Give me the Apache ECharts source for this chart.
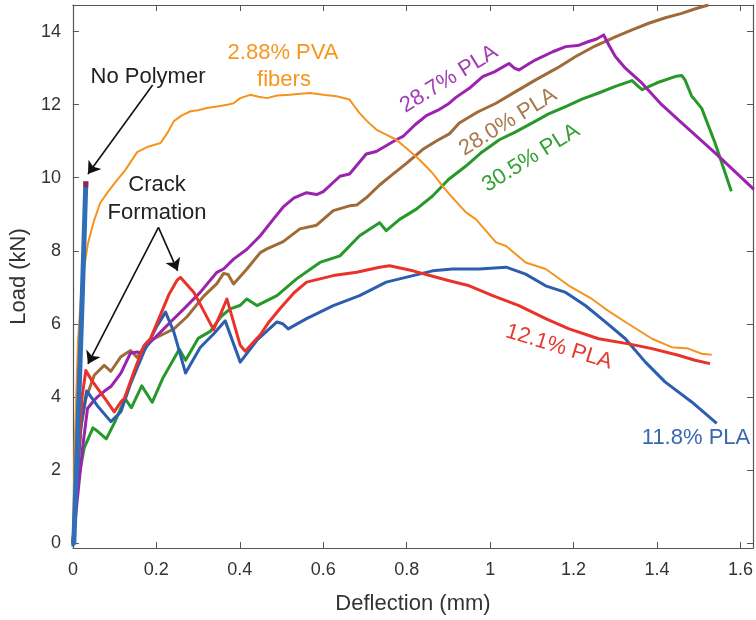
<!DOCTYPE html>
<html>
<head>
<meta charset="utf-8">
<script src="https://cdn.jsdelivr.net/npm/echarts@6/dist/echarts.min.js"></script>
<style>
  html, body { margin: 0; padding: 0; background: #fff; }
  #chart { width: 756px; height: 620px; }
</style>
</head>
<body>
<div id="chart"></div>
<script>
// tick values
const xTicks = [0, 0.2, 0.4, 0.6, 0.8, 1, 1.2, 1.4, 1.6];
const yTicks = [0, 2, 4, 6, 8, 10, 12, 14];

// load-deflection curves, [deflection mm, load kN]
const noPolymer = [[0.002, -0.05], [0.012, 3.2], [0.022, 6.6], [0.031, 9.9]];
const noPolymerTop = [[0.031, 9.82]];

const pva288 = [[0, 0], [0.004, 2.6], [0.012, 5.5], [0.019, 6.7], [0.028, 7.6], [0.036, 8.2], [0.05, 8.8],
  [0.065, 9.3], [0.083, 9.6], [0.1, 9.85], [0.125, 10.2], [0.154, 10.7], [0.18, 10.85], [0.21, 10.95],
  [0.225, 11.2], [0.242, 11.55], [0.26, 11.7], [0.282, 11.82], [0.3, 11.85], [0.321, 11.91], [0.345, 11.95],
  [0.37, 12.0], [0.385, 12.04], [0.401, 12.18], [0.425, 12.27], [0.445, 12.22], [0.465, 12.18], [0.49, 12.25],
  [0.52, 12.27], [0.545, 12.3], [0.568, 12.32], [0.6, 12.27], [0.632, 12.23], [0.663, 12.14], [0.675, 11.95],
  [0.687, 11.77], [0.705, 11.55], [0.727, 11.32], [0.759, 11.13], [0.775, 11.04], [0.8, 10.8], [0.83, 10.5],
  [0.86, 10.15], [0.886, 9.77], [0.902, 9.55], [0.942, 9.05], [0.966, 8.86], [1.014, 8.23], [1.038, 8.13],
  [1.085, 7.68], [1.133, 7.5], [1.189, 7.04], [1.244, 6.68], [1.276, 6.41], [1.324, 6.05], [1.388, 5.59],
  [1.435, 5.36], [1.475, 5.32], [1.507, 5.18], [1.531, 5.15]];

const pla287 = [[0, 0], [0.011, 1.23], [0.023, 2.59], [0.035, 3.68], [0.047, 3.85], [0.059, 4.0], [0.075, 4.15],
  [0.091, 4.28], [0.115, 4.65], [0.138, 5.2], [0.154, 5.23], [0.162, 5.2], [0.186, 5.5], [0.21, 5.77],
  [0.234, 6.05], [0.266, 6.41], [0.305, 6.86], [0.345, 7.41], [0.361, 7.5], [0.385, 7.77], [0.417, 8.04],
  [0.449, 8.41], [0.48, 8.86], [0.504, 9.2], [0.53, 9.45], [0.56, 9.59], [0.584, 9.54], [0.6, 9.62],
  [0.64, 10.04], [0.663, 10.1], [0.703, 10.65], [0.727, 10.72], [0.775, 11.04], [0.791, 11.13], [0.82, 11.45],
  [0.847, 11.7], [0.875, 11.85], [0.902, 12.04], [0.918, 12.2], [0.95, 12.45], [0.982, 12.77], [1.01, 12.9],
  [1.045, 13.13], [1.058, 13.0], [1.069, 12.95], [1.09, 13.1], [1.109, 13.23], [1.15, 13.45], [1.181, 13.59],
  [1.21, 13.62], [1.236, 13.73], [1.255, 13.8], [1.272, 13.91], [1.286, 13.6], [1.3, 13.32], [1.324, 13.0],
  [1.364, 12.59], [1.411, 12.0], [1.459, 11.5], [1.539, 10.68], [1.632, 9.68]];

const pla280 = [[0, 0], [0.008, 1.5], [0.019, 3.14], [0.031, 3.95], [0.051, 4.59], [0.075, 4.86], [0.091, 4.7],
  [0.115, 5.1], [0.138, 5.27], [0.154, 5.08], [0.178, 5.5], [0.21, 5.68], [0.242, 5.86], [0.274, 6.2],
  [0.313, 6.75], [0.345, 7.1], [0.361, 7.38], [0.372, 7.35], [0.385, 7.09], [0.417, 7.5], [0.449, 7.95],
  [0.465, 8.05], [0.504, 8.25], [0.544, 8.6], [0.584, 8.7], [0.624, 9.1], [0.663, 9.23], [0.68, 9.25],
  [0.703, 9.45], [0.735, 9.8], [0.767, 10.1], [0.8, 10.4], [0.838, 10.77], [0.87, 11.0], [0.902, 11.2],
  [0.926, 11.5], [0.97, 11.8], [1.014, 12.04], [1.06, 12.35], [1.109, 12.68], [1.16, 13.0], [1.205, 13.32],
  [1.25, 13.6], [1.3, 13.86], [1.34, 14.05], [1.38, 14.23], [1.42, 14.38], [1.459, 14.5], [1.49, 14.62],
  [1.523, 14.73]];

const pla305 = [[0, 0], [0.011, 1.6], [0.027, 2.6], [0.048, 3.15], [0.06, 3.05], [0.08, 2.85], [0.1, 3.3],
  [0.125, 3.95], [0.14, 3.7], [0.165, 4.3], [0.19, 3.85], [0.215, 4.5], [0.255, 5.3], [0.27, 5.0], [0.3, 5.6],
  [0.33, 5.8], [0.355, 6.2], [0.377, 6.41], [0.4, 6.5], [0.417, 6.68], [0.441, 6.5], [0.489, 6.77],
  [0.536, 7.23], [0.592, 7.68], [0.64, 7.86], [0.687, 8.41], [0.735, 8.77], [0.751, 8.55], [0.783, 8.86],
  [0.823, 9.14], [0.862, 9.5], [0.9, 9.95], [0.942, 10.32], [0.98, 10.7], [1.022, 11.04], [1.06, 11.25],
  [1.101, 11.5], [1.14, 11.75], [1.181, 11.95], [1.22, 12.15], [1.26, 12.32], [1.3, 12.5], [1.34, 12.66],
  [1.355, 12.5], [1.364, 12.41], [1.4, 12.6], [1.443, 12.77], [1.459, 12.8], [1.467, 12.68], [1.483, 12.23],
  [1.49, 12.14], [1.507, 11.9], [1.539, 10.95], [1.578, 9.63]];

const pla121 = [[0, 0], [0.01, 2.0], [0.022, 4.0], [0.031, 4.72], [0.045, 4.45], [0.059, 4.23], [0.08, 3.9],
  [0.099, 3.59], [0.115, 3.86], [0.123, 3.95], [0.146, 4.68], [0.17, 5.4], [0.186, 5.6], [0.21, 6.25],
  [0.23, 6.8], [0.25, 7.2], [0.258, 7.27], [0.29, 6.86], [0.337, 5.84], [0.355, 6.3], [0.369, 6.68],
  [0.401, 5.41], [0.413, 5.25], [0.433, 5.5], [0.449, 5.7], [0.47, 6.05], [0.496, 6.41], [0.53, 6.85],
  [0.56, 7.14], [0.624, 7.32], [0.68, 7.41], [0.735, 7.55], [0.759, 7.59], [0.815, 7.45], [0.862, 7.3],
  [0.902, 7.18], [0.95, 7.04], [1.006, 6.77], [1.069, 6.5], [1.133, 6.14], [1.189, 5.86], [1.26, 5.59],
  [1.332, 5.45], [1.388, 5.32], [1.451, 5.14], [1.491, 5.0], [1.527, 4.91]];

const pla118 = [[0, -0.1], [0.008, 1.5], [0.02, 3.3], [0.033, 4.16], [0.059, 3.75], [0.091, 3.32], [0.107, 3.5],
  [0.115, 3.59], [0.138, 4.35], [0.17, 5.23], [0.202, 5.95], [0.222, 6.32], [0.242, 5.77], [0.27, 4.65],
  [0.305, 5.35], [0.337, 5.72], [0.365, 6.08], [0.401, 4.95], [0.441, 5.55], [0.489, 6.05], [0.503, 6.0],
  [0.516, 5.86], [0.56, 6.14], [0.624, 6.5], [0.687, 6.77], [0.751, 7.14], [0.815, 7.32], [0.862, 7.45],
  [0.91, 7.5], [0.974, 7.5], [1.038, 7.55], [1.085, 7.36], [1.133, 7.04], [1.181, 6.86], [1.228, 6.5],
  [1.276, 6.05], [1.324, 5.59], [1.372, 4.95], [1.419, 4.41], [1.483, 3.86], [1.543, 3.27]];

// annotation arrows, [from, to] in data units
const arrows = [
  [[0.191, 12.54], [0.036, 10.1]],
  [[0.205, 8.64], [0.251, 7.45]],
  [[0.205, 8.64], [0.036, 4.9]]
];

const FONT = 'Liberation Sans, Arial, sans-serif';

function curve(name, data, color, width) {
  return {
    name: name,
    type: 'line',
    data: data,
    showSymbol: false,
    clip: true,
    lineStyle: { color: color, width: width, join: 'round' },
    z: 3
  };
}

function note(text, x, y, color, rot) {
  return {
    type: 'text',
    x: x,
    y: y,
    rotation: (rot || 0) * Math.PI / 180,
    style: {
      text: text,
      fill: color,
      font: '22px ' + FONT,
      textAlign: 'center',
      textVerticalAlign: 'middle'
    },
    z: 10
  };
}

const chart = echarts.init(document.getElementById('chart'), null, { renderer: 'canvas' });

const axisLine = { show: true, onZero: false, lineStyle: { color: '#555', width: 1.2 } };

chart.setOption({
  backgroundColor: '#fff',
  animation: false,
  textStyle: { fontFamily: FONT },
  grid: { left: 71, right: 2, top: 5, bottom: 70 },
  xAxis: [
    {
      type: 'value',
      min: 0,
      max: 1.63,
      position: 'bottom',
      axisLine: axisLine,
      splitLine: { show: false },
      axisTick: { inside: true, length: 6, customValues: xTicks, lineStyle: { color: '#555' } },
      axisLabel: { customValues: xTicks, color: '#333', fontSize: 18, margin: 13 },
      name: 'Deflection (mm)',
      nameLocation: 'middle',
      nameGap: 45,
      nameTextStyle: { color: '#333', fontSize: 22 }
    },
    {
      type: 'value',
      min: 0,
      max: 1.63,
      position: 'top',
      axisLine: axisLine,
      splitLine: { show: false },
      axisTick: { inside: true, length: 6, customValues: xTicks, lineStyle: { color: '#555' } },
      axisLabel: { show: false }
    }
  ],
  yAxis: [
    {
      type: 'value',
      min: -0.14,
      max: 14.73,
      position: 'left',
      axisLine: axisLine,
      splitLine: { show: false },
      axisTick: { inside: true, length: 6, customValues: yTicks, lineStyle: { color: '#555' } },
      axisLabel: { customValues: yTicks, color: '#333', fontSize: 18, margin: 12 },
      name: 'Load (kN)',
      nameLocation: 'middle',
      nameGap: 40,
      nameTextStyle: { color: '#333', fontSize: 22 }
    },
    {
      type: 'value',
      min: -0.14,
      max: 14.73,
      position: 'right',
      axisLine: axisLine,
      splitLine: { show: false },
      axisTick: { inside: true, length: 6, customValues: yTicks, lineStyle: { color: '#555' } },
      axisLabel: { show: false }
    }
  ],
  series: [
    curve('30.5% PLA', pla305, '#27992b', 3),
    curve('28.0% PLA', pla280, '#9f6b38', 3),
    curve('28.7% PLA', pla287, '#9a24ad', 3),
    curve('11.8% PLA', pla118, '#2c5ead', 3),
    curve('12.1% PLA', pla121, '#e9332a', 3),
    curve('2.88% PVA fibers', pva288, '#f7921e', 2),
    Object.assign(curve('No Polymer', noPolymer, '#2f6fba', 5), {
      z: 4,
      markLine: {
        silent: true,
        symbol: ['none', 'arrow'],
        symbolSize: 12,
        label: { show: false },
        lineStyle: { color: '#111', width: 1.6, type: 'solid' },
        emphasis: { disabled: true },
        data: arrows.map(a => [{ coord: a[0] }, { coord: a[1] }])
      }
    }),
    {
      name: 'No Polymer top',
      type: 'scatter',
      data: noPolymerTop,
      symbol: 'rect',
      symbolSize: [5, 6],
      itemStyle: { color: '#a8153c' },
      z: 5
    }
  ],
  graphic: [
    note('No Polymer', 148, 77, '#222'),
    note('Crack', 157, 185, '#222'),
    note('Formation', 157, 213, '#222'),
    note('2.88% PVA', 283, 53, '#f7961f'),
    note('fibers', 284, 80, '#f7961f'),
    note('28.7% PLA', 449, 79, '#a23cb6', 31.5),
    note('28.0% PLA', 508, 122, '#a57a4c', 31.5),
    note('30.5% PLA', 531, 158, '#32a032', 32),
    note('12.1% PLA', 559, 347, '#e83a30', -17),
    note('11.8% PLA', 696, 438, '#3a66b2')
  ]
});
</script>
</body>
</html>
